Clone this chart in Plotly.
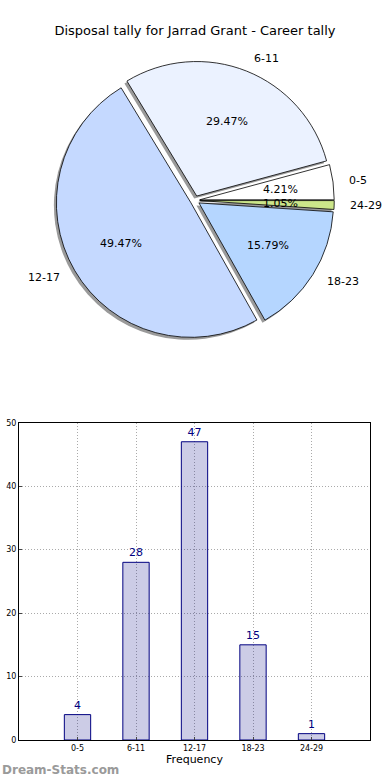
import numpy as np
import plotly.graph_objects as go

# ---- data ----
categories = ["0-5", "6-11", "12-17", "18-23", "24-29"]
counts = [4, 28, 47, 15, 1]
slice_colors = ["#FFFFFF", "#EBF2FF", "#C5D9FF", "#B5D6FF", "#CCE68A"]
title_text = "Disposal tally for Jarrad Grant - Career tally"
y_ticks = [0, 10, 20, 30, 40, 50]

# ---- layout geometry (pixels) ----
W, H = 390, 780
ML, MR, MT, MB = 19, 20, 0, 40
PW, PH = W - ML - MR, H - MT - MB
FONT = "DejaVu Sans"

pie_cx, pie_cy, pie_half = 195.0, 197.5, 140.0
pull = 0.035
pie_r = pie_half / (1 + pull)

total = float(sum(counts))
# plotly (counterclockwise) places the first slice clockwise of `rotation`;
# shift so that the first slice starts at 3 o'clock like matplotlib
rotation = 90 - 360.0 * counts[0] / total


def px_to_paper(px, py):
    return (px - ML) / PW, (PH - (py - MT)) / PH


x0, y1 = px_to_paper(pie_cx - pie_half, pie_cy - pie_half)
x1, y0 = px_to_paper(pie_cx + pie_half, pie_cy + pie_half)

sx0, sy1 = px_to_paper(pie_cx - pie_half - 2.5, pie_cy - pie_half + 2.5)
sx1, sy0 = px_to_paper(pie_cx + pie_half - 2.5, pie_cy + pie_half + 2.5)

fig = go.Figure()

# shadow
fig.add_trace(go.Pie(
    labels=categories, values=counts, sort=False, direction="counterclockwise",
    rotation=rotation, pull=[pull] * len(counts),
    marker=dict(colors=["#9a9a9a"] * len(counts), line=dict(width=0)),
    textinfo="none", hoverinfo="skip", showlegend=False,
    domain=dict(x=[sx0, sx1], y=[sy0, sy1]),
))
# main pie
fig.add_trace(go.Pie(
    labels=categories, values=counts, sort=False, direction="counterclockwise",
    rotation=rotation, pull=[pull] * len(counts),
    marker=dict(colors=slice_colors, line=dict(color="#000000", width=0.8)),
    textinfo="none", showlegend=False,
    domain=dict(x=[x0, x1], y=[y0, y1]),
))

# bar chart
fig.add_trace(go.Bar(
    x=list(range(len(categories))), y=counts, width=0.45,
    marker=dict(color="rgba(0,0,128,0.2)", line=dict(color="#000080", width=1)),
    text=[str(c) for c in counts], textposition="outside", cliponaxis=False,
    textfont=dict(color="#000080", size=11, family=FONT),
    showlegend=False, xaxis="x", yaxis="y",
))

annotations = []
cum = 0.0
for cat, c in zip(categories, counts):
    frac = c / total
    mid = np.deg2rad((cum + frac / 2) * 360.0)
    cum += frac
    # label outside
    d = (1.1 + pull) * pie_r
    lx, ly = pie_cx + d * np.cos(mid), pie_cy - d * np.sin(mid)
    ax, ay = px_to_paper(lx, ly)
    annotations.append(dict(
        x=ax, y=ay, xref="paper", yref="paper", text=cat, showarrow=False,
        xanchor="left" if np.cos(mid) > 0 else "right", yanchor="middle",
        font=dict(family=FONT, size=11, color="#000000"),
    ))
    # percentage inside
    d = (0.6 + pull) * pie_r
    tx, ty = pie_cx + d * np.cos(mid), pie_cy - d * np.sin(mid)
    bx, by = px_to_paper(tx, ty)
    annotations.append(dict(
        x=bx, y=by, xref="paper", yref="paper", text=f"{100 * frac:.2f}%",
        showarrow=False, xanchor="center", yanchor="middle",
        font=dict(family=FONT, size=11, color="#000000"),
    ))

wx, wy = px_to_paper(0, 770)
annotations.append(dict(
    x=wx, y=wy, xref="paper", yref="paper", text="<b>Dream-Stats.com</b>",
    showarrow=False, xanchor="left", yanchor="middle",
    font=dict(family=FONT, size=12, color="#9a9a9a"),
))

bar_top = (PH - (421 - MT)) / PH

fig.update_layout(
    width=W, height=H,
    margin=dict(l=ML, r=MR, t=MT, b=MB),
    paper_bgcolor="white", plot_bgcolor="white",
    font=dict(family=FONT, color="#000000"),
    title=dict(text=title_text, x=0.5, xref="container", xanchor="center",
               y=1 - 30 / H, yref="container", yanchor="middle",
               font=dict(family=FONT, size=13, color="#000000")),
    xaxis=dict(
        domain=[0, 1], range=[-1, 5], tickvals=list(range(len(categories))),
        ticktext=categories, showgrid=True, gridcolor="#aaaaaa", griddash="1px,2px",
        gridwidth=1, zeroline=False, showline=True, mirror=True,
        linecolor="#000000", linewidth=1, ticks="inside", ticklen=3,
        tickfont=dict(size=8, family=FONT), fixedrange=True,
        title=dict(text="Frequency", font=dict(size=11, family=FONT), standoff=2),
    ),
    yaxis=dict(
        domain=[0, bar_top], range=[0, 50], tickvals=y_ticks,
        showgrid=True, gridcolor="#aaaaaa", griddash="1px,2px", gridwidth=1,
        zeroline=False, showline=True, mirror=True, linecolor="#000000",
        linewidth=1, ticks="inside", ticklen=3,
        tickfont=dict(size=8, family=FONT), fixedrange=True,
    ),
    annotations=annotations,
)

fig.write_html(
    "out.html",
    config={"displayModeBar": False},
    post_script="document.body.style.margin='0';document.body.style.padding='0';",
)
